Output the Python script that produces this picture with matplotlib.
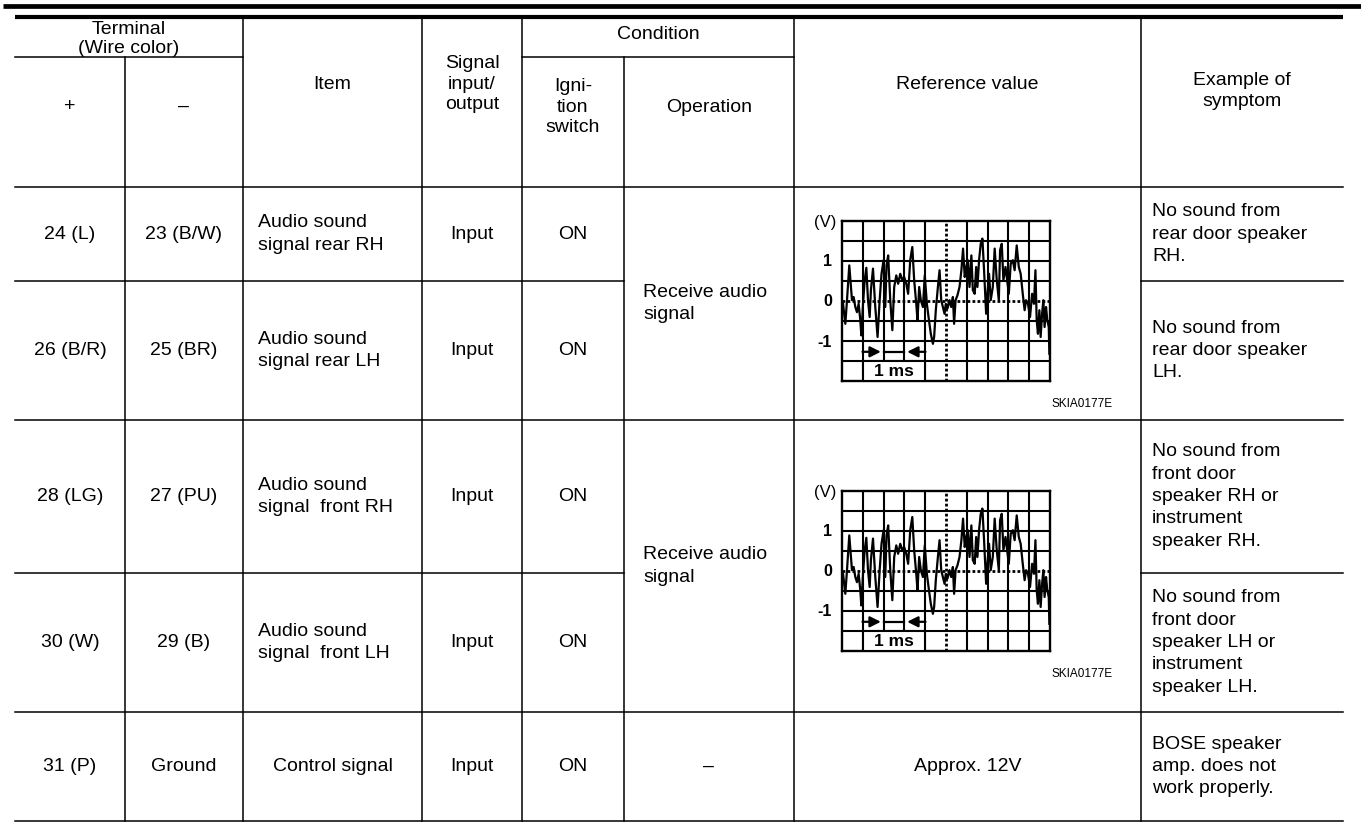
import matplotlib
matplotlib.use("Agg")
import matplotlib.pyplot as plt
import matplotlib.patches as patches

plt.rcParams["font.family"] = ["Liberation Sans", "DejaVu Sans"]

# table content
pos_terminal = ["24 (L)", "26 (B/R)", "28 (LG)", "30 (W)", "31 (P)"]
neg_terminal = ["23 (B/W)", "25 (BR)", "27 (PU)", "29 (B)", "Ground"]
items = [
    "Audio sound\nsignal rear RH",
    "Audio sound\nsignal rear LH",
    "Audio sound\nsignal  front RH",
    "Audio sound\nsignal  front LH",
    "Control signal",
]
signal_io = ["Input", "Input", "Input", "Input", "Input"]
ignition = ["ON", "ON", "ON", "ON", "ON"]
symptoms = [
    "No sound from\nrear door speaker\nRH.",
    "No sound from\nrear door speaker\nLH.",
    "No sound from\nfront door\nspeaker RH or\ninstrument\nspeaker RH.",
    "No sound from\nfront door\nspeaker LH or\ninstrument\nspeaker LH.",
    "BOSE speaker\namp. does not\nwork properly.",
]
operation_merged = ["Receive audio\nsignal", "Receive audio\nsignal"]
operation_last = "–"
reference_last = "Approx. 12V"
figure_code = "SKIA0177E"

# waveform (time in divisions, volts)
wave_t = [0.05, 0.16, 0.24, 0.35, 0.48, 0.56, 0.64, 0.72, 0.80, 0.88,
          0.93, 1.01, 1.09, 1.17, 1.25, 1.33, 1.39, 1.49, 1.60, 1.71,
          1.81, 1.90, 2.00, 2.08, 2.14, 2.22, 2.32, 2.42, 2.51, 2.61,
          2.70, 2.80, 2.90, 2.99, 3.09, 3.18, 3.28, 3.38, 3.47, 3.57,
          3.63, 3.71, 3.79, 3.89, 3.98, 4.08, 4.18, 4.27, 4.37, 4.43,
          4.51, 4.61, 4.69, 4.77, 4.85, 4.93, 4.99, 5.07, 5.17, 5.25,
          5.33, 5.39, 5.46, 5.55, 5.65, 5.74, 5.82, 5.90, 5.97, 6.05,
          6.13, 6.22, 6.29, 6.38, 6.45, 6.51, 6.59, 6.67, 6.75, 6.83,
          6.93, 6.99, 7.07, 7.15, 7.25, 7.34, 7.44, 7.54, 7.60, 7.68,
          7.76, 7.86, 7.94, 8.02, 8.11, 8.21, 8.30, 8.40, 8.50, 8.59,
          8.69, 8.78, 8.85, 8.94, 9.04, 9.14, 9.23, 9.30, 9.36, 9.42,
          9.49, 9.55, 9.62, 9.68, 9.74, 9.81, 9.87, 9.94, 9.97]
wave_v = [-0.07, -0.57, 0.02, 0.89, 0.02, 0.10, -0.15, -0.28, -0.07, -0.48,
          -0.86, -0.07, 0.52, 0.83, 0.02, -0.40, 0.27, 0.81, -0.15, -0.90,
          0.02, 0.68, 1.02, -0.15, 0.89, 1.14, 0.02, -0.73, 0.35, 0.64,
          0.43, 0.68, 0.52, 0.60, 0.43, 0.18, 1.02, 1.35, 0.52, -0.07,
          -0.48, 0.35, 0.02, -0.15, 0.64, -0.07, -0.48, -0.82, -1.07, -0.90,
          -0.23, 0.35, 0.77, 0.02, -0.15, -0.32, -0.07, -0.19, 0.02, -0.15,
          0.10, -0.57, 0.02, 0.14, 0.35, 0.77, 1.31, 0.60, 0.85, 1.02,
          0.35, 1.14, 0.27, 0.18, 0.85, 0.35, 1.02, 1.43, 1.56, 0.77,
          -0.32, 0.18, 0.68, 0.02, 0.35, 1.31, 0.52, 0.02, 1.27, 1.43,
          0.52, 0.85, 0.52, 0.18, 0.93, 1.02, 0.77, 1.39, 0.85, 0.68,
          0.18, -0.23, 0.02, -0.07, -0.40, 0.18, -0.07, 0.77, -0.48, -0.82,
          -0.23, -0.90, -0.32, 0.02, -0.65, -0.15, -0.48, -0.65, -1.32]

W, H = 1361, 823
col_x = [15, 125, 243, 422, 522, 624, 794, 1141, 1343]
row_y = [17, 57, 187, 281, 420, 573, 712, 821]

fig = plt.figure(figsize=(W / 100, H / 100), dpi=100)
ax = fig.add_axes([0, 0, 1, 1])
ax.set_xlim(0, W)
ax.set_ylim(H, 0)
ax.axis("off")

thin = 1.1
fs = 14
ls_head = 1.25
ls = 1.42

# heavy rules on top
ax.plot([3, W], [6, 6], color="black", lw=3.4, solid_capstyle="butt")
ax.plot([col_x[0], col_x[-1]], [row_y[0], row_y[0]], color="black", lw=3.0, solid_capstyle="butt")

# horizontal lines
ax.plot([col_x[0], col_x[2]], [row_y[1]] * 2, color="black", lw=thin)
ax.plot([col_x[4], col_x[6]], [row_y[1]] * 2, color="black", lw=thin)
for y in [row_y[2], row_y[4], row_y[6], row_y[7]]:
    ax.plot([col_x[0], col_x[-1]], [y, y], color="black", lw=thin)
for y in [row_y[3], row_y[5]]:
    ax.plot([col_x[0], col_x[5]], [y, y], color="black", lw=thin)
    ax.plot([col_x[7], col_x[8]], [y, y], color="black", lw=thin)

# vertical lines
for i, x in enumerate(col_x[1:-1], start=1):
    top = row_y[1] if i in (1, 5) else row_y[0]
    ax.plot([x, x], [top, row_y[7]], color="black", lw=thin)


def cx(i, j=None):
    j = i + 1 if j is None else j
    return (col_x[i] + col_x[j]) / 2


# header text
ax.text(cx(0, 2), 39, "Terminal\n(Wire color)", ha="center", va="center", fontsize=fs, linespacing=1.15)
ax.text(cx(0), 106, "+", ha="center", va="center", fontsize=fs)
ax.text(cx(1), 106, "–", ha="center", va="center", fontsize=fs)
ax.text(cx(2), 84, "Item", ha="center", va="center", fontsize=fs)
ax.text(cx(3), 84, "Signal\ninput/\noutput", ha="center", va="center", fontsize=fs, linespacing=ls_head)
ax.text(cx(4, 6), 34, "Condition", ha="center", va="center", fontsize=fs)
ax.text(cx(4), 107, "Igni-\ntion\nswitch", ha="center", va="center", fontsize=fs, linespacing=ls_head)
ax.text(cx(5), 107, "Operation", ha="center", va="center", fontsize=fs)
ax.text(cx(6), 84, "Reference value", ha="center", va="center", fontsize=fs)
ax.text(cx(7), 91, "Example of\nsymptom", ha="center", va="center", fontsize=fs, linespacing=ls_head)

# body rows
row_bounds = [(row_y[2], row_y[3]), (row_y[3], row_y[4]), (row_y[4], row_y[5]),
              (row_y[5], row_y[6]), (row_y[6], row_y[7])]
for k, (y0, y1) in enumerate(row_bounds):
    yc = (y0 + y1) / 2
    ax.text(cx(0), yc, pos_terminal[k], ha="center", va="center", fontsize=fs)
    ax.text(cx(1), yc, neg_terminal[k], ha="center", va="center", fontsize=fs)
    if "\n" in items[k]:
        ax.text(col_x[2] + 15, yc, items[k], ha="left", va="center", fontsize=fs, linespacing=ls)
    else:
        ax.text(cx(2), yc, items[k], ha="center", va="center", fontsize=fs)
    ax.text(cx(3), yc, signal_io[k], ha="center", va="center", fontsize=fs)
    ax.text(cx(4), yc, ignition[k], ha="center", va="center", fontsize=fs)
    ax.text(col_x[7] + 11, yc, symptoms[k], ha="left", va="center", fontsize=fs, linespacing=ls)

merged = [(row_y[2], row_y[4]), (row_y[4], row_y[6])]
for k, (y0, y1) in enumerate(merged):
    ax.text(col_x[5] + 19, (y0 + y1) / 2, operation_merged[k], ha="left", va="center",
            fontsize=fs, linespacing=ls)
ax.text(cx(5), (row_y[6] + row_y[7]) / 2, operation_last, ha="center", va="center", fontsize=fs)
ax.text(cx(6), (row_y[6] + row_y[7]) / 2, reference_last, ha="center", va="center", fontsize=fs)

# scope pictures
box_left, box_w, box_h = 842, 208, 160
for box_top in [221, 491]:
    wax = fig.add_axes([box_left / W, 1 - (box_top + box_h) / H, box_w / W, box_h / H])
    wax.set_xlim(0, 10)
    wax.set_ylim(-2, 2)
    wax.set_xticks([])
    wax.set_yticks([])
    for s in wax.spines.values():
        s.set_linewidth(1.7)
    for gx in range(1, 10):
        if gx == 5:
            wax.axvline(gx, color="black", lw=2.0, ls=(0, (1, 0.8)))
        else:
            wax.axvline(gx, color="black", lw=1.5)
    for gy in [-1.5, -1, -0.5, 0.5, 1, 1.5]:
        wax.axhline(gy, color="black", lw=1.5)
    wax.axhline(0, color="black", lw=2.0, ls=(0, (1, 0.8)))
    wax.plot(wave_t, wave_v, color="black", lw=1.6)
    # white label box for 1 ms
    wax.add_patch(patches.Rectangle((1, -2), 3, 0.5, facecolor="white", edgecolor="black",
                                    lw=1.5, zorder=3))
    wax.text(2.5, -1.76, "1 ms", ha="center", va="center", fontsize=12.5, fontweight="bold", zorder=4)
    wax.annotate("", xy=(2, -1.27), xytext=(0.85, -1.27),
                 arrowprops=dict(arrowstyle="-|>", color="black", lw=1.6, mutation_scale=16))
    wax.annotate("", xy=(3.0, -1.27), xytext=(4.15, -1.27),
                 arrowprops=dict(arrowstyle="-|>", color="black", lw=1.6, mutation_scale=16))
    wax.plot([2, 3], [-1.27, -1.27], color="black", lw=1.6)

    ax.text(825, box_top + 1, "(V)", ha="center", va="center", fontsize=12)
    ax.text(828, box_top + 41, "1", ha="center", va="center", fontsize=11.5, fontweight="bold")
    ax.text(828, box_top + 81, "0", ha="center", va="center", fontsize=11.5, fontweight="bold")
    ax.text(825, box_top + 121, "-1", ha="center", va="center", fontsize=11.5, fontweight="bold")
    ax.text(1113, box_top + 183, figure_code, ha="right", va="center", fontsize=8.5)

fig.savefig("out.png", dpi=100)
